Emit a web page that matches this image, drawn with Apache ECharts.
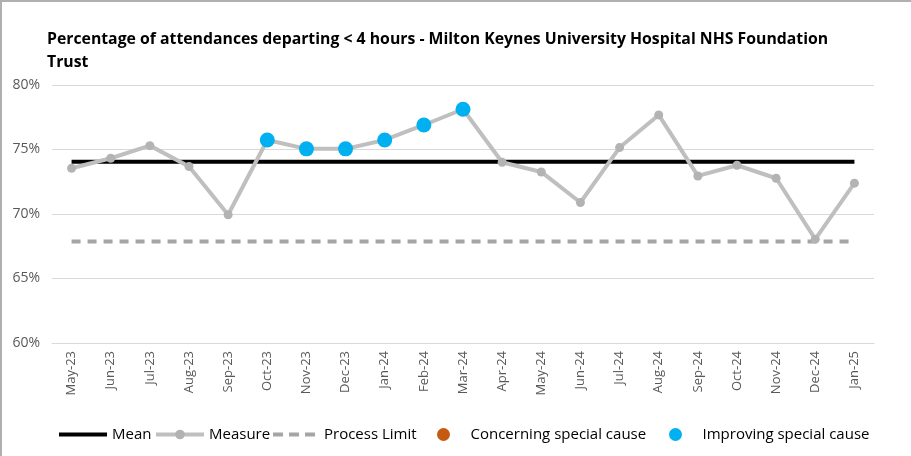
<!DOCTYPE html>
<html>
<head>
<meta charset="utf-8">
<script src="https://cdn.jsdelivr.net/npm/echarts@6/dist/echarts.min.js"></script>
<style>
  html, body { margin: 0; padding: 0; background: #fff; }
  #chart { width: 911px; height: 456px; box-sizing: border-box; border-left: 2px solid #b0b0b0; border-top: 2px solid #b0b0b0; }
</style>
</head>
<body>
<div id="chart"></div>
<script>
const months = ['May-23', 'Jun-23', 'Jul-23', 'Aug-23', 'Sep-23', 'Oct-23', 'Nov-23', 'Dec-23', 'Jan-24', 'Feb-24', 'Mar-24',
  'Apr-24', 'May-24', 'Jun-24', 'Jul-24', 'Aug-24', 'Sep-24', 'Oct-24', 'Nov-24', 'Dec-24', 'Jan-25']
const measure = [73.55, 74.32, 75.30, 73.68, 69.94, 75.74, 75.05, 75.05, 75.74, 76.90, 78.12,
  74.01, 73.26, 70.89, 75.15, 77.68, 72.95, 73.78, 72.77, 68.05, 72.39]
const meanValue = 74.06
const processLimit = 67.87
// months flagged as improving special cause (index into months)
const improvingIdx = [5, 6, 7, 8, 9, 10]
const concerningIdx = []

const font = "'Open Sans', sans-serif"

const meanData = months.map(() => meanValue)
const limitData = months.map(() => processLimit)
const improving = measure.map((v, i) => improvingIdx.includes(i) ? v : null)
const concerning = measure.map((v, i) => concerningIdx.includes(i) ? v : null)

// one legend per entry so each sits where the reference has it
function legendAt (left, item, w, h) {
  return {
    left: left,
    top: 420,
    itemWidth: w,
    itemHeight: h,
    textStyle: { fontFamily: font, fontSize: 15, color: '#000' },
    data: [item]
  }
}

const chart = echarts.init(document.getElementById('chart'))
chart.setOption({
  animation: false,
  textStyle: { fontFamily: font },
  title: {
    text: 'Percentage of attendances departing < 4 hours - Milton Keynes University Hospital NHS Foundation\nTrust',
    left: 40,
    top: 21,
    textStyle: { fontFamily: font, fontSize: 15.8, fontWeight: 'bold', color: '#000', lineHeight: 23 }
  },
  legend: [
    legendAt(50, { name: 'Mean', itemStyle: { opacity: 0 }, lineStyle: { width: 4 } }, 48, 12),
    legendAt(147, { name: 'Measure', lineStyle: { width: 4 } }, 48, 12),
    legendAt(264, { name: 'Process Limit', itemStyle: { opacity: 0 }, lineStyle: { width: 4, type: [10, 6] } }, 46, 12),
    legendAt(430, { name: 'Concerning special cause', icon: 'circle' }, 44, 13),
    legendAt(662, { name: 'Improving special cause', icon: 'circle' }, 44, 13)
  ],
  grid: { left: 50, right: 37, top: 83, bottom: 113 },
  xAxis: {
    type: 'category',
    data: months,
    boundaryGap: true,
    axisLine: { lineStyle: { color: '#d9d9d9' } },
    axisTick: { length: 5, lineStyle: { color: '#d9d9d9' } },
    axisLabel: { rotate: 90, fontSize: 13, color: '#595959', margin: 8, fontFamily: font }
  },
  yAxis: {
    type: 'value',
    min: 60,
    max: 80,
    interval: 5,
    axisLine: { show: false },
    axisTick: { show: false },
    axisLabel: { formatter: '{value}%', fontSize: 14, color: '#595959', margin: 12, fontFamily: font },
    splitLine: { lineStyle: { color: '#d9d9d9' } }
  },
  series: [{
    name: 'Mean',
    type: 'line',
    data: meanData,
    symbol: 'none',
    color: '#000',
    lineStyle: { color: '#000', width: 4 },
    z: 2
  }, {
    name: 'Measure',
    type: 'line',
    data: measure,
    symbol: 'circle',
    symbolSize: 9,
    color: '#bfbfbf',
    lineStyle: { color: '#bfbfbf', width: 4 },
    itemStyle: { color: '#b3b3b3' },
    z: 3
  }, {
    name: 'Process Limit',
    type: 'line',
    data: limitData,
    symbol: 'none',
    color: '#a6a6a6',
    lineStyle: { color: '#a6a6a6', width: 4, type: [9, 7] },
    z: 2
  }, {
    name: 'Concerning special cause',
    type: 'scatter',
    data: concerning,
    symbolSize: 15,
    color: '#c55a11',
    itemStyle: { opacity: 1 },
    z: 4
  }, {
    name: 'Improving special cause',
    type: 'scatter',
    data: improving,
    symbolSize: 15,
    color: '#00b0f0',
    itemStyle: { opacity: 1 },
    z: 4
  }]
})
</script>
</body>
</html>
